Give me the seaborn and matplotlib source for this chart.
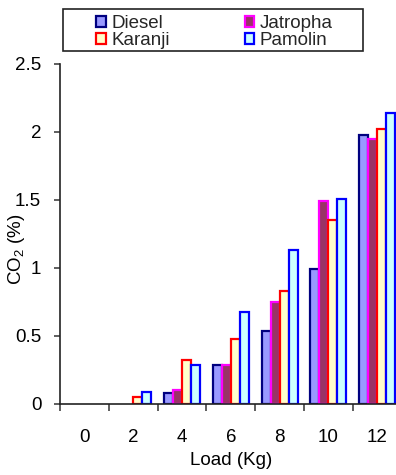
import matplotlib
matplotlib.use("Agg")
import matplotlib.pyplot as plt
from matplotlib.patches import Patch, Rectangle
from matplotlib.ticker import FixedLocator, FuncFormatter
import pandas as pd
import seaborn as sns

# CO2 emission (%) versus engine load for four fuels
loads = ["0", "2", "4", "6", "8", "10", "12"]
fuels = ["Diesel", "Jatropha", "Karanji", "Pamolin"]
diesel = [0, 0, 0.08, 0.29, 0.54, 0.99, 1.98]
jatropha = [0, 0, 0.10, 0.29, 0.75, 1.49, 1.95]
karanji = [0, 0.05, 0.32, 0.48, 0.83, 1.35, 2.02]
pamolin = [0, 0.09, 0.29, 0.68, 1.13, 1.51, 2.14]

face_colors = ["#9999FF", "#993366", "#FFFFCC", "#CCFFFF"]
edge_colors = ["#000080", "#FF00FF", "#FF0000", "#0000FF"]

df = pd.DataFrame({
    "Load": loads * 4,
    "CO2": diesel + jatropha + karanji + pamolin,
    "Fuel": [f for f in fuels for _ in loads],
})

sns.set_style("white")
plt.rcParams["font.family"] = ["Liberation Sans", "DejaVu Sans"]
plt.rcParams["mathtext.fontset"] = "custom"
plt.rcParams["mathtext.rm"] = "Liberation Sans"
plt.rcParams["mathtext.it"] = "Liberation Sans:italic"
plt.rcParams["mathtext.default"] = "regular"

FS = 13.5
W, H = 396, 475
fig = plt.figure(figsize=(W / 100, H / 100), dpi=100)
ax = fig.add_axes([60 / W, 1 - 404 / H, 341.6 / W, 340 / H])

sns.barplot(data=df, x="Load", y="CO2", hue="Fuel", hue_order=fuels,
            order=loads, palette=face_colors, saturation=1, width=0.74,
            gap=0, linewidth=1.6, legend=False, ax=ax)

for cont, ec in zip(ax.containers, edge_colors):
    for bar in cont:
        bar.set_edgecolor(ec)
        bar.set_linewidth(1.6 if bar.get_height() > 0 else 0)

ax.set_xlim(-0.5, 6.5)
ax.set_ylim(0, 2.5)
ax.set_yticks([0, 0.5, 1, 1.5, 2, 2.5])
ax.yaxis.set_major_formatter(FuncFormatter(lambda v, p: f"{v:g}"))

# ticks between load groups, labels centred under each group
ax.xaxis.set_minor_locator(FixedLocator([i - 0.5 for i in range(len(loads) + 1)]))
ax.tick_params(axis="x", which="major", length=0, pad=18, labelsize=FS, colors="black")
ax.tick_params(axis="x", which="minor", bottom=True, length=5, width=1.1, color="#333333")
ax.tick_params(axis="y", which="major", left=True, length=4.5, width=1.1,
               color="#333333", pad=9, labelsize=FS, labelcolor="black")

for side in ("top", "right"):
    ax.spines[side].set_visible(False)
for side in ("left", "bottom"):
    ax.spines[side].set_color("#222222")
    ax.spines[side].set_linewidth(1.2)

ax.set_xlabel("Load (Kg)", fontsize=FS, color="black", labelpad=4)
ax.set_ylabel("CO$_2$ (%)", fontsize=FS, color="black")
ax.yaxis.set_label_coords(-0.097, 0.456)

handles = [Patch(facecolor=fc, edgecolor=ec, linewidth=1.6, label=f)
           for f, fc, ec in zip(fuels, face_colors, edge_colors)]
order = [0, 2, 1, 3]
fig.legend([handles[i] for i in order], [fuels[i] for i in order],
           ncol=2, loc="upper left", bbox_to_anchor=(87 / W, 1 - 6 / H),
           frameon=False, borderpad=0, fontsize=FS, handlelength=0.5,
           handleheight=0.5, handletextpad=0.3, columnspacing=4.0,
           labelspacing=0.0)
fig.patches.append(Rectangle((63 / W, 1 - 51 / H), 300 / W, 42 / H,
                             transform=fig.transFigure, fill=False,
                             edgecolor="#222222", linewidth=1.2))

fig.savefig("out.png", dpi=100)
